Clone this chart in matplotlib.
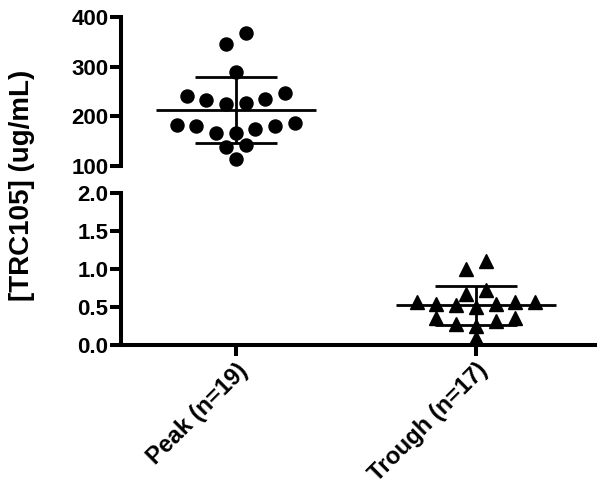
import matplotlib.pyplot as plt
import numpy as np

plt.rcParams['font.family'] = ['Liberation Sans', 'DejaVu Sans']
plt.rcParams['font.weight'] = 'bold'

groups = ["Peak (n=19)", "Trough (n=17)"]
peak = [367, 345, 290, 240, 232, 224, 226, 235, 247, 183, 181, 167, 167,
        175, 181, 186, 142, 138, 115]
trough = [1.10, 1.00, 0.72, 0.67, 0.56, 0.56, 0.54, 0.50, 0.53, 0.54, 0.56,
          0.35, 0.28, 0.35, 0.25, 0.32, 0.09]

top_ticks = [100, 200, 300, 400]
bottom_ticks = [0.0, 0.5, 1.0, 1.5, 2.0]


def scatter_slots(vals, bin_width, start):
    # prism-style column scatter: bin by value, spread each bin around the centre
    vals = np.asarray(vals, float)
    bins = np.floor((vals - start) / bin_width + 1e-9)
    slots = np.zeros(len(vals))
    for b in np.unique(bins):
        idx = np.where(bins == b)[0]
        idx = idx[np.argsort(vals[idx], kind="stable")]
        n = len(idx)
        for k, i in enumerate(idx):
            if n % 2:
                slots[i] = ((k + 1) // 2) * (-1 if k % 2 else 1)
            else:
                slots[i] = (k // 2 + 0.5) * (-1 if k % 2 == 0 else 1)
    return slots


fig = plt.figure(figsize=(6.04, 5.0), dpi=100)
ax_top = fig.add_axes([0.200, 0.668, 0.785, 0.298])
ax_bot = fig.add_axes([0.200, 0.310, 0.785, 0.304])

step = 0.082
lw_spine = 2.9

for ax in (ax_top, ax_bot):
    ax.set_xlim(-0.479, 1.496)
    for s in ("top", "right"):
        ax.spines[s].set_visible(False)
    ax.spines["left"].set_linewidth(lw_spine)
    ax.spines["bottom"].set_linewidth(lw_spine)
    ax.tick_params(axis="y", length=8, width=lw_spine, labelsize=16, pad=1)
    ax.tick_params(axis="x", length=8, width=lw_spine, labelsize=17, pad=2)

# top panel: peak
ax_top.set_ylim(100, 400)
ax_top.set_yticks(top_ticks)
ax_top.spines["bottom"].set_visible(False)
ax_top.set_xticks([])
xp = 0 + scatter_slots(peak, 30, 100) * step
ax_top.plot(xp, peak, "o", color="black", ms=9.4, clip_on=False, zorder=3)
m, sd = np.mean(peak), np.std(peak, ddof=1)
ax_top.hlines(m, -0.333, 0.333, color="black", lw=2, zorder=4)
ax_top.hlines([m - sd, m + sd], -0.17, 0.17, color="black", lw=2, zorder=4)
ax_top.vlines(0, m - sd, m + sd, color="black", lw=2, zorder=4)

# bottom panel: trough
ax_bot.set_ylim(0, 2.0)
ax_bot.set_yticks(bottom_ticks)
ax_bot.set_yticklabels([f"{t:.1f}" for t in bottom_ticks])
ax_bot.set_xticks([0, 1])
ax_bot.set_xticklabels(groups, rotation=45, ha="right", rotation_mode="anchor")
xt = 1 + scatter_slots(trough, 0.2, 0) * step
ax_bot.plot(xt, trough, "^", color="black", ms=9.4, clip_on=False, zorder=3)
m, sd = np.mean(trough), np.std(trough, ddof=1)
ax_bot.hlines(m, 1 - 0.333, 1 + 0.333, color="black", lw=2, zorder=4)
ax_bot.hlines([m - sd, m + sd], 1 - 0.17, 1 + 0.17, color="black", lw=2, zorder=4)
ax_bot.vlines(1, m - sd, m + sd, color="black", lw=2, zorder=4)

fig.text(0.036, 0.63, "[TRC105] (ug/mL)", rotation=90, ha="center", va="center",
         fontsize=20, fontweight="bold")

fig.savefig("out.png", dpi=100)
